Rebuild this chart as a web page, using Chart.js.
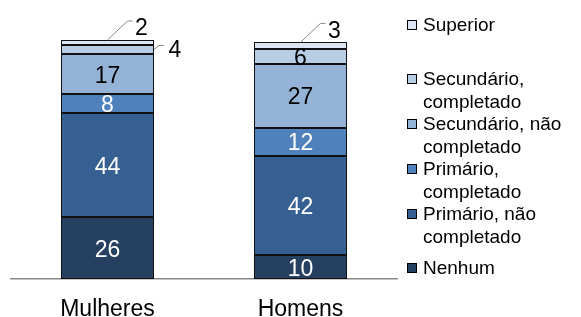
<!DOCTYPE html>
<html>
<head>
<meta charset="utf-8">
<script src="https://cdn.jsdelivr.net/npm/chart.js@4/dist/chart.umd.min.js"></script>
<style>
  html, body { margin: 0; padding: 0; background: #fff; }
</style>
</head>
<body>
<canvas id="chart" width="581" height="317"></canvas>
<script>
// data (percent)
const categories = ['Mulheres', 'Homens'];
const nenhum = [26, 10];
const primarioNao = [44, 42];
const primarioComp = [8, 12];
const secundarioNao = [17, 27];
const secundarioComp = [4, 6];
const superior = [2, 3];

const seriesNames = [
  ['Nenhum'],
  ['Primário, não', 'completado'],
  ['Primário,', 'completado'],
  ['Secundário, não', 'completado'],
  ['Secundário,', 'completado'],
  ['Superior']
];
const seriesData = [nenhum, primarioNao, primarioComp, secundarioNao, secundarioComp, superior];
const seriesColors = ['#254061', '#376092', '#4f81bd', '#95b3d7', '#b9cde5', '#dce6f2'];
const textColors = ['#fff', '#fff', '#fff', '#000', '#000', '#000'];

// labels drawn outside the bar with a leader line  (dataset-index)
const leaders = { '5-0': 'up', '4-0': 'right', '5-1': 'up' };

const FONT = '"Liberation Sans", Arial, sans-serif';

// crisp 1px outlines round every segment
const outlines = {
  id: 'outlines',
  afterDatasetsDraw(chart) {
    const ctx = chart.ctx;
    ctx.save();
    ctx.strokeStyle = '#111';
    ctx.lineWidth = 1;
    chart.data.datasets.forEach(function(ds, di) {
      chart.getDatasetMeta(di).data.forEach(function(bar) {
        const l = Math.round(bar.x - bar.width / 2) + 0.5;
        const r = Math.round(bar.x + bar.width / 2) - 0.5;
        const t = Math.round(Math.min(bar.y, bar.base)) + 0.5;
        const b = Math.round(Math.max(bar.y, bar.base)) - 0.5;
        ctx.strokeRect(l, t, r - l, b - t);
      });
    });
    ctx.restore();
  }
};

const segmentLabels = {
  id: 'segmentLabels',
  afterDatasetsDraw(chart) {
    const ctx = chart.ctx;
    ctx.save();
    ctx.font = '23px ' + FONT;
    ctx.textAlign = 'center';
    ctx.textBaseline = 'middle';
    ctx.strokeStyle = '#898989';
    ctx.lineWidth = 1;
    chart.data.datasets.forEach(function(ds, di) {
      const meta = chart.getDatasetMeta(di);
      meta.data.forEach(function(bar, i) {
        const top = Math.min(bar.y, bar.base);
        const bottom = Math.max(bar.y, bar.base);
        const mid = (top + bottom) / 2;
        const mode = leaders[di + '-' + i];
        const txt = String(ds.data[i]);
        if (!mode) {
          ctx.fillStyle = textColors[di];
          ctx.fillText(txt, bar.x, mid + 2);
        } else if (mode === 'up') {
          ctx.beginPath();
          ctx.moveTo(bar.x, top);
          ctx.lineTo(bar.x + 20, top - 19);
          ctx.lineTo(bar.x + 25, top - 19);
          ctx.stroke();
          ctx.fillStyle = '#000';
          ctx.fillText(txt, bar.x + 34, top - 11);
        } else {
          const x0 = bar.x + bar.width / 2;
          ctx.beginPath();
          ctx.moveTo(x0, mid);
          ctx.lineTo(x0 + 5, mid - 4);
          ctx.lineTo(x0 + 10, mid - 4);
          ctx.stroke();
          ctx.fillStyle = '#000';
          ctx.fillText(txt, x0 + 21, mid + 1);
        }
      });
    });
    ctx.restore();
  }
};

// category names under the axis, placed through the x scale
const categoryLabels = {
  id: 'categoryLabels',
  afterDraw(chart) {
    const ctx = chart.ctx;
    const xs = chart.scales.x;
    ctx.save();
    ctx.font = '23px ' + FONT;
    ctx.fillStyle = '#000';
    ctx.textAlign = 'center';
    ctx.textBaseline = 'alphabetic';
    categories.forEach(function(c, i) {
      ctx.fillText(c, xs.getPixelForTick(i), 316);
    });
    ctx.restore();
  }
};

const sideLegend = {
  id: 'sideLegend',
  afterDraw(chart) {
    const ctx = chart.ctx;
    ctx.save();
    ctx.font = '19px ' + FONT;
    ctx.textAlign = 'left';
    ctx.textBaseline = 'middle';
    const lineH = 22.5;
    const entryY = [25, 79, 124, 169, 214, 268];
    let n = 0;
    for (let k = seriesNames.length - 1; k >= 0; k--, n++) {
      const y = entryY[n];
      ctx.fillStyle = seriesColors[k];
      ctx.fillRect(407, y - 5, 10, 10);
      ctx.strokeStyle = '#000';
      ctx.lineWidth = 1;
      ctx.strokeRect(407.5, y - 4.5, 9, 9);
      ctx.fillStyle = '#000';
      seriesNames[k].forEach(function(line, j) {
        ctx.fillText(line, 423, y + j * lineH + 1);
      });
    }
    ctx.restore();
  }
};

const datasets = seriesData.map(function(vals, k) {
  return {
    label: seriesNames[k].join(' '),
    data: vals,
    backgroundColor: seriesColors[k],
    borderWidth: 0,
    categoryPercentage: 1,
    barPercentage: 0.482
  };
});

new Chart(document.getElementById('chart'), {
  type: 'bar',
  data: { labels: categories, datasets: datasets },
  options: {
    responsive: false,
    devicePixelRatio: 1,
    animation: false,
    layout: { padding: { left: 11, right: 184, top: 40, bottom: 38 } },
    plugins: { legend: { display: false }, tooltip: { enabled: false } },
    scales: {
      x: {
        stacked: true,
        grid: { display: false, drawTicks: false },
        border: { display: true, color: '#898989', width: 1.5 },
        ticks: { display: false }
      },
      y: { stacked: true, display: false, min: 0, max: 101 }
    }
  },
  plugins: [outlines, segmentLabels, categoryLabels, sideLegend]
});
</script>
</body>
</html>
